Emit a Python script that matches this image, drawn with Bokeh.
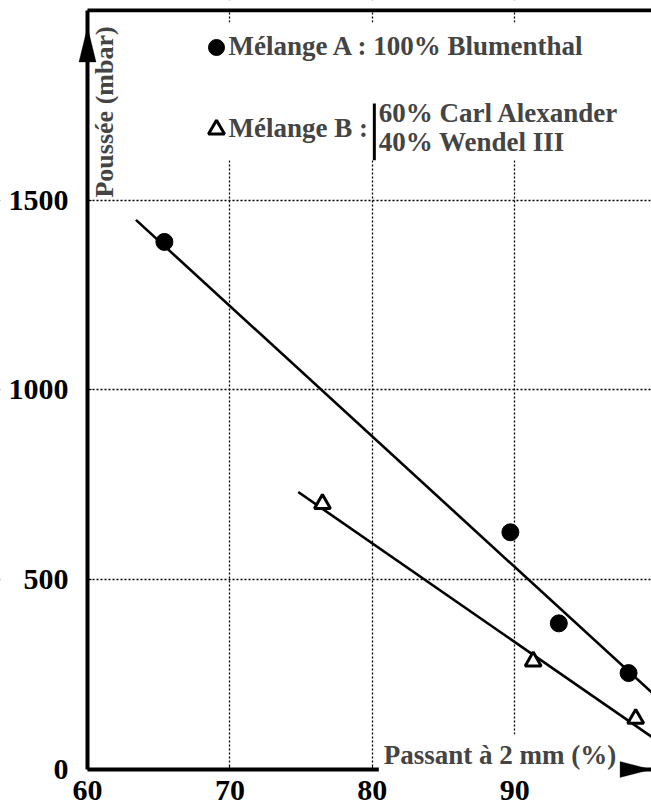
import math
from bokeh.plotting import figure
from bokeh.models import (Range1d, FixedTicker, Legend, LegendItem, Label, Grid,
                          LinearAxis, PolyAnnotation, BoxAnnotation)
from bokeh.embed import file_html
from bokeh.resources import INLINE

# ---- data ----
mix_a_x = [65.4, 89.7, 93.1, 98.0]
mix_a_y = [1390, 625, 385, 254]
mix_b_x = [76.5, 91.3, 98.5]
mix_b_y = [700, 285, 134]
fit_a_x = [63.4, 100.0]
fit_a_y = [1448, 190]
fit_b_x = [74.8, 100.0]
fit_b_y = [731, 76]

x_ticks = [60, 70, 80, 90]
y_ticks = [0, 500, 1000, 1500]
x_start, x_end = 60, 99.6
y_start, y_end = 0, 2000

label_a = "Mélange A : 100% Blumenthal"
label_b = "Mélange B :"
comp_b = ["60% Carl Alexander", "40% Wendel III"]
x_title = "Passant à 2 mm (%)"
y_title = "Poussée (mbar)"

FONT = "'Liberation Serif', 'Times New Roman', serif"
# the frame covers the whole canvas; the axes sit inside it at x=60 / y=0
view_x = (53.89, 99.61)
view_y = (-97.5, 2026.1)
line_pad = 5

p = figure(width=651, height=806, output_backend="svg", toolbar_location=None,
           x_range=Range1d(*view_x), y_range=Range1d(*view_y),
           x_axis_location=None, y_axis_location=None,
           min_border=0)
p.outline_line_color = None
p.background_fill_color = "white"
p.border_fill_color = "white"
p.center = [r for r in p.center if not isinstance(r, Grid)]

xgrid = Grid(dimension=0, ticker=FixedTicker(ticks=x_ticks[1:]))
ygrid = Grid(dimension=1, ticker=FixedTicker(ticks=y_ticks[1:]))
for g in (xgrid, ygrid):
    g.grid_line_color = "black"
    g.grid_line_dash = "2 2"
    g.grid_line_width = 1.3
    p.add_layout(g, "center")

# white margins outside the axes (hide grid lines there)
for kw in (dict(right=x_start), dict(top=y_start), dict(bottom=y_end)):
    p.add_layout(BoxAnnotation(fill_color="white", fill_alpha=1.0,
                               line_color=None, level="glyph", **kw))

xaxis = LinearAxis(ticker=FixedTicker(ticks=x_ticks), fixed_location=y_start,
                   bounds=(x_start, x_end), major_label_standoff=12)
yaxis = LinearAxis(ticker=FixedTicker(ticks=y_ticks), fixed_location=x_start,
                   bounds=(y_start, y_end), major_label_standoff=19)
for ax in (xaxis, yaxis):
    ax.axis_line_width = 4
    ax.axis_line_color = "black"
    ax.major_tick_in = 4
    ax.major_tick_out = 0
    ax.major_tick_line_width = 1
    ax.minor_tick_line_color = None
    ax.major_label_text_font = FONT
    ax.major_label_text_font_style = "bold"
    ax.major_label_text_font_size = "30px"
    ax.major_label_text_color = "black"
p.add_layout(xaxis, "below")
p.add_layout(yaxis, "left")

# top frame line
p.add_layout(BoxAnnotation(left=x_start, right=x_end, top=y_end + line_pad,
                           bottom=y_end - line_pad, fill_color="black",
                           fill_alpha=1.0, line_color=None))

# fit lines
p.line(fit_a_x, fit_a_y, line_color="black", line_width=2.6)
p.line(fit_b_x, fit_b_y, line_color="black", line_width=2.6)

# points
ra = p.scatter(mix_a_x, mix_a_y, marker="circle", size=17, fill_color="black",
               line_color="black")
rb = p.scatter(mix_b_x, mix_b_y, marker="triangle", size=16, fill_color="white",
               line_color="black", line_width=3)

# white area behind the key (hides the grid there)
p.add_layout(BoxAnnotation(left=66.9, right=98.8, top=1968, bottom=1605,
                           fill_color="white", fill_alpha=1.0, line_color=None,
                           level="glyph"))

legend = Legend(items=[LegendItem(label=" ", renderers=[ra]),
                       LegendItem(label=" ", renderers=[rb])],
                location=(196, 657), glyph_width=40, glyph_height=40,
                label_standoff=0, spacing=42, padding=10, margin=0,
                label_text_font=FONT, label_text_font_style="bold",
                label_text_font_size="27px", border_line_color=None,
                background_fill_alpha=0.0)
p.add_layout(legend)

def text(x, y, s, size="27px", **kw):
    p.add_layout(Label(x=x, y=y, text=s, text_font=FONT, text_font_style="bold",
                       text_font_size=size, level="overlay", **kw))

text(69.9, 1905, label_a, text_align="left", text_baseline="middle")
text(69.9, 1689, label_b, text_align="left", text_baseline="middle")
p.add_layout(BoxAnnotation(left=80.04, right=80.25, top=1755, bottom=1605,
                           fill_color="black", fill_alpha=1.0, line_color=None,
                           level="overlay"))
for txt, yy in zip(comp_b, [1731, 1652]):
    text(80.46, yy, txt, text_align="left", text_baseline="middle")

# axis titles inside frame
text(61.2, 1507, y_title, size="26px", angle=math.pi / 2, text_align="left",
     text_baseline="middle")
p.add_layout(Label(x=80.46, y=39.5, text=x_title, text_align="left",
                   text_baseline="alphabetic", text_font=FONT,
                   text_font_style="bold", text_font_size="27px",
                   background_fill_color="white", background_fill_alpha=1.0,
                   padding=5))

# axis arrow heads (relative to the axis ends)
y_tip, y_base, y_half = y_end * 0.978, y_end * 0.932, 0.6
x_tip, x_base, x_half = x_end, x_end - 2.2, 21
p.add_layout(PolyAnnotation(xs=[x_start - y_half, x_start, x_start + y_half],
                            ys=[y_base, y_tip, y_base], fill_color="black",
                            fill_alpha=1.0, line_color="black", level="overlay"))
p.add_layout(PolyAnnotation(xs=[x_base, x_tip, x_base],
                            ys=[y_start - x_half, y_start, y_start + x_half],
                            fill_color="black", fill_alpha=1.0,
                            line_color="black", level="overlay"))

open("out.html", "w").write(file_html(p, INLINE))
